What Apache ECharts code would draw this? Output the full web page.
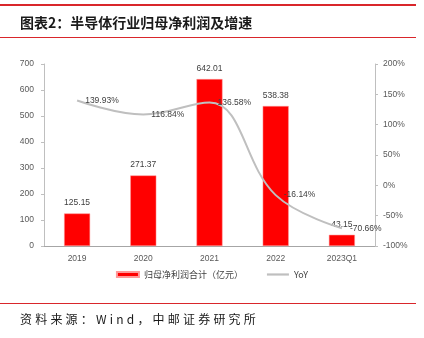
<!DOCTYPE html>
<html><head><meta charset="utf-8">
<script src="https://cdn.jsdelivr.net/npm/echarts@6/dist/echarts.min.js"></script>
<style>html,body{margin:0;padding:0;background:#fff}#c{width:424px;height:338px}</style>
</head><body><div id="c"></div>
<script>
const categories = ['2019','2020','2021','2022','2023Q1'];
const profit = [125.15, 271.37, 642.01, 538.38, 43.15];
const yoy = [139.93, 116.84, 136.58, -16.14, -70.66];
const leftTicks = [0, 700, 100];
const rightTicks = [-100, 200, 50];
const titleText = '图表2：半导体行业归母净利润及增速';
const sourceText = '资料来源：Wind，中邮证券研究所';

// footer text with letter spacing (per-character layout)
const footFont = '12px "Noto Sans CJK SC"';
const ctx = document.createElement('canvas').getContext('2d');
ctx.font = footFont;
const footChars = [];
let fx = 20;
for (const ch of sourceText) {
  footChars.push({type:'text', x:fx, y:313, style:{text:ch, font:footFont, fill:'#1a1a1a'}});
  fx += ctx.measureText(ch).width + 3.2;
}

const chart = echarts.init(document.getElementById('c'));
const axisLabel = {color:'#595959', fontSize:8.5, fontFamily:'Liberation Sans, Arial, sans-serif'};
chart.setOption({
  animation:false,
  graphic:[
    {type:'rect', shape:{x:0,y:4,width:416,height:2}, style:{fill:'#D9262B'}},
    {type:'text', left:20, top:16, style:{text:titleText, font:'bold 14px "Noto Sans CJK SC"', fill:'#1a1a1a'}},
    {type:'rect', shape:{x:0,y:37,width:416,height:1}, style:{fill:'#D9262B'}},
    {type:'rect', shape:{x:0,y:303,width:416,height:1}, style:{fill:'#D9262B'}},
    {type:'group', children:footChars}
  ],
  grid:{left:44, right:49, top:64, bottom:92},
  legend:{
    bottom:54, left:'center', itemGap:24, itemWidth:22, itemHeight:5,
    textStyle:{color:'#404040', fontSize:9, fontFamily:'"Noto Sans CJK SC"'},
    data:[{name:'归母净利润合计（亿元）', icon:'rect'},{name:'YoY', icon:'path://M0,0H10V1H0Z'}]
  },
  xAxis:{type:'category', data:categories,
    axisLine:{lineStyle:{color:'#A6A6A6'}}, axisTick:{show:false},
    axisLabel:Object.assign({margin:8}, axisLabel)},
  yAxis:[
    {type:'value', min:leftTicks[0], max:leftTicks[1], interval:leftTicks[2],
     axisLine:{show:true, lineStyle:{color:'#BFBFBF'}}, axisTick:{show:true, length:3, lineStyle:{color:'#BFBFBF'}},
     splitLine:{show:false}, axisLabel:Object.assign({margin:10}, axisLabel)},
    {type:'value', min:rightTicks[0], max:rightTicks[1], interval:rightTicks[2],
     axisLine:{show:true, lineStyle:{color:'#BFBFBF'}}, axisTick:{show:true, length:3, lineStyle:{color:'#BFBFBF'}},
     splitLine:{show:false}, axisLabel:Object.assign({margin:8, formatter:'{value}%'}, axisLabel)}
  ],
  series:[
    {name:'归母净利润合计（亿元）', type:'bar', data:profit, barWidth:26,
     itemStyle:{color:'#FF0000', borderColor:'#FF9999', borderWidth:0.5},
     label:{show:true, position:'top', distance:6, color:'#404040', fontSize:8.5, fontFamily:'Liberation Sans, Arial, sans-serif',
            formatter:p=>p.value.toFixed(2)}},
    {name:'YoY', type:'line', yAxisIndex:1, data:yoy, smooth:0.4, showSymbol:true, symbol:'circle', symbolSize:0.1,
     lineStyle:{color:'#BFBFBF', width:2}, itemStyle:{color:'#BFBFBF'},
     label:{show:true, position:'right', distance:8, color:'#404040', fontSize:8.5, fontFamily:'Liberation Sans, Arial, sans-serif',
            formatter:p=>p.value.toFixed(2)+'%'}}
  ]
});
</script></body></html>
